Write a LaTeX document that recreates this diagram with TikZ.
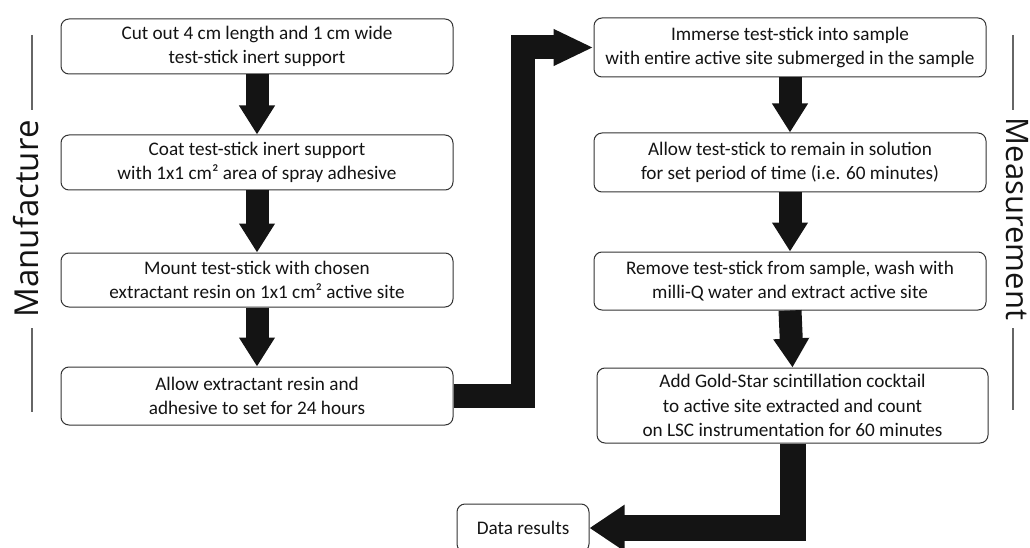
\documentclass[tikz,border=0pt]{standalone}
\usepackage{fontspec}
\setmainfont{Carlito}
\newfontfamily\sidefont{Open Sans}
\usetikzlibrary{arrows.meta}
\definecolor{ink}{HTML}{141414}
\definecolor{edge}{HTML}{333333}
\definecolor{rule}{HTML}{666666}
\tikzset{
  stepbox/.style={draw=edge, line width=1pt, rounded corners=8pt, fill=white,
    minimum width=392pt, minimum height=56pt, inner sep=0pt, align=center,
    font=\fontsize{19.2}{24.5}\selectfont, text=ink},
  smallbox/.style={stepbox, minimum width=132pt, minimum height=48pt},
  downarrow/.style={draw=ink, line width=23pt,
    -{Triangle[width=34pt,length=29pt]}},
  elbowA/.style={draw=ink, line width=24pt, line join=miter,
    -{Triangle[width=34pt,length=40pt]}},
  elbowB/.style={draw=ink, line width=26pt, line join=miter,
    -{Triangle[width=44pt,length=35pt]}},
  sidelabel/.style={text=ink, inner sep=0pt, anchor=base},
  siderule/.style={draw=rule, line width=1.4pt}
}
\begin{document}
\begin{tikzpicture}[x=1pt,y=-1pt]
\useasboundingbox (0,0) rectangle (1030,548);

% left column
\node[stepbox, minimum height=55pt] (L1) at (257,46.5) {Cut out 4 cm length and 1 cm wide\\test-stick inert support};
\node[stepbox, minimum height=55pt] (L2) at (257,162.5) {Coat test-stick inert support\\with 1x1 cm² area of spray adhesive};
\node[stepbox, minimum height=54pt] (L3) at (257,280) {Mount test-stick with chosen\\extractant resin on 1x1 cm² active site};
\node[stepbox, minimum height=58pt] (L4) at (257,396) {Allow extractant resin and\\adhesive to set for 24 hours};

% right column
\node[stepbox, minimum height=59pt] (R1) at (790,47.5) {Immerse test-stick into sample\\with entire active site submerged in the sample};
\node[stepbox, minimum height=59pt] (R2) at (790,162.5) {Allow test-stick to remain in solution\\for set period of time (i.e. 60 minutes)};
\node[stepbox, minimum height=58pt] (R3) at (790,281) {Remove test-stick from sample, wash with\\milli-Q water and extract active site};
\node[stepbox, minimum height=75pt, minimum width=391pt] (R4) at (792.5,405.5) {Add Gold-Star scintillation cocktail\\to active site extracted and count\\on LSC instrumentation for 60 minutes};

\node[smallbox] (D) at (523,528) {Data results};

% arrows
\draw[downarrow] (L1.south) -- (L2.north);
\draw[downarrow] (L2.south) -- (L3.north);
\draw[downarrow] (L3.south) -- (L4.north);
\draw[downarrow] (R1.south) -- (R2.north);
\draw[downarrow] (R2.south) -- (R3.north);
\draw[downarrow] (R3.south) -- (R4.north);
\draw[elbowA] (L4.east) -- ++(69,0) |- (R1.west);
\draw[elbowB] (R4.south) |- (D.east);

% side labels
\node[sidelabel, rotate=90, font=\sidefont\fontsize{33}{40}\selectfont] (manu) at (38,219) {Manufacture};
\draw[siderule] (32,35) -- (32,110);
\draw[siderule] (32,328) -- (32,412);
\node[sidelabel, rotate=-90, font=\sidefont\fontsize{31}{40}\selectfont] (meas) at (1006,219) {Measurement};
\draw[siderule] (1013,35) -- (1013,110);
\draw[siderule] (1013,328) -- (1013,410);
\end{tikzpicture}
\end{document}
